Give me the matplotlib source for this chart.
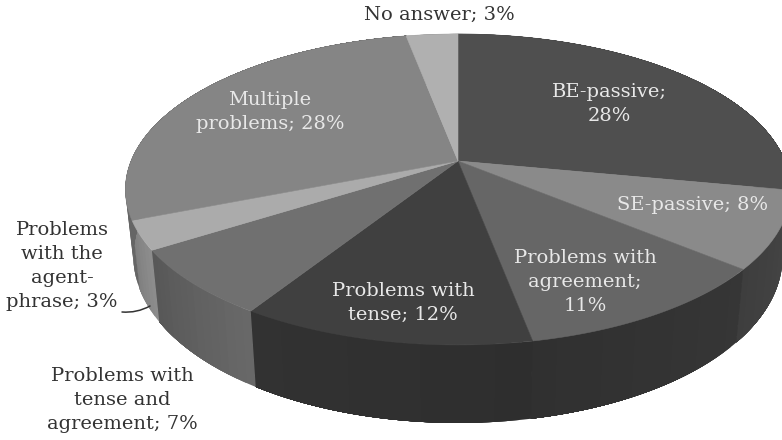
#!/usr/bin/env python3
# 3D-look pie, drawn by hand because matplotlib has no perspective pie
import numpy as np
import matplotlib
matplotlib.use("Agg")
import matplotlib.pyplot as plt

plt.rcParams["font.family"] = ["DejaVu Serif"]

# clockwise from 12 o'clock
labels = ["BE-passive;\n28%", "SE-passive; 8%", "Problems with\nagreement;\n11%",
          "Problems with\ntense; 12%", "Problems with\ntense and\nagreement; 7%",
          "Problems\nwith the\nagent-\nphrase; 3%", "Multiple\nproblems; 28%",
          "No answer; 3%"]
values = [28, 8, 11, 12, 7, 3, 28, 3]

top_colors = ["#4f4f4f", "#8a8a8a", "#666666", "#404040", "#707070", "#ababab", "#858585", "#b0b0b0"]
# side wall shade at the start / end of each wedge
side_start = ["#3c3c3c", "#464646", "#363636", "#2e2e2e", "#686868", "#8c8c8c", "#666666", "#777777"]
side_end = ["#3c3c3c", "#3e3e3e", "#303030", "#323232", "#585858", "#808080", "#606060", "#777777"]
text_colors = ["#e8e8e8", "#e8e8e8", "#e8e8e8", "#e8e8e8", "#333333", "#333333", "#e8e8e8", "#333333"]

# label centres in pixels
label_pos = [(609, 104), (693, 205), (585, 282), (403, 303), (122, 400), (62, 266), (270, 112), (439, 15)]

CX, CY = 458, 161
RX, RY = 327, 150.3
PERSP = 0.183


def top_xy(a):
    # a in radians, clockwise from the top
    u, v = np.sin(a), np.cos(a)
    w = 1 + PERSP * v
    return CX + RX * u / w, CY - RY * v / w


def bottom_xy(a):
    x, y = top_xy(a)
    return CX + (x - CX) * 0.976, y + 64 - 14 * np.cos(a)


def to_rgb(c):
    return np.array(matplotlib.colors.to_rgb(c))


fig = plt.figure(figsize=(7.82, 4.4), dpi=100)
ax = fig.add_axes([0, 0, 1, 1])
ax.set_xlim(0, 782)
ax.set_ylim(440, 0)
ax.axis("off")

edges = np.radians(np.concatenate([[0], np.cumsum(values)]) * 3.6)

# side walls first; every strip runs on to the wedge end and the next one paints
# over it, so no seams show between strips
for i in range(len(values)):
    n = max(int(values[i]), 2) * 2
    aa = np.linspace(edges[i], edges[i + 1], n + 1)
    for j in range(n):
        seg = np.linspace(aa[j], edges[i + 1], 40)
        tx, ty = top_xy(seg)
        bx, by = bottom_xy(seg)
        t = j / max(n - 1, 1)
        col = to_rgb(side_start[i]) * (1 - t) + to_rgb(side_end[i]) * t
        ax.fill(np.r_[tx, bx[::-1]], np.r_[ty, by[::-1]], facecolor=col, edgecolor="none", zorder=2)

# top face
for i in range(len(values)):
    seg = np.linspace(edges[i], edges[i + 1], max(int(values[i]) * 4, 8))
    tx, ty = top_xy(seg)
    ax.fill(np.r_[CX, tx], np.r_[CY, ty], color=top_colors[i], lw=0.4, zorder=3)

for lab, (lx, ly), col in zip(labels, label_pos, text_colors):
    ax.text(lx, ly, lab, ha="center", va="center", color=col, fontsize=14,
            linespacing=1.43, zorder=5)

# leader of the agent-phrase label
ax.annotate("", xy=(150, 306), xytext=(122, 312),
            arrowprops=dict(arrowstyle="-", color="#333333", lw=1.1,
                            connectionstyle="arc3,rad=0.15", shrinkA=0, shrinkB=0))

fig.savefig("out.png", dpi=100)
